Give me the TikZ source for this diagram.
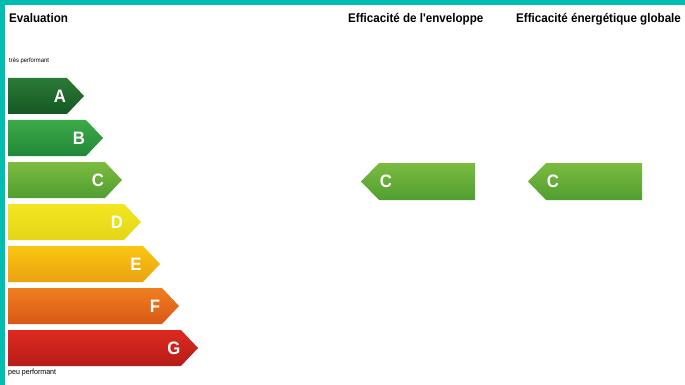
\documentclass[tikz,border=0pt]{standalone}
\usepackage{fontspec}
\setmainfont{Liberation Sans}[FakeStretch=0.93,Ligatures=TeXOff]
\definecolor{cadre}{RGB}{0,189,178}
\definecolor{classeAh}{RGB}{42,122,54}
\definecolor{classeAb}{RGB}{21,88,36}
\definecolor{classeBh}{RGB}{60,170,72}
\definecolor{classeBb}{RGB}{34,135,56}
\definecolor{classeCh}{RGB}{124,187,64}
\definecolor{classeCb}{RGB}{80,158,48}
\definecolor{classeDh}{RGB}{242,230,32}
\definecolor{classeDb}{RGB}{228,214,24}
\definecolor{classeEh}{RGB}{248,198,16}
\definecolor{classeEb}{RGB}{236,162,18}
\definecolor{classeFh}{RGB}{238,126,32}
\definecolor{classeFb}{RGB}{218,88,22}
\definecolor{classeGh}{RGB}{220,42,30}
\definecolor{classeGb}{RGB}{182,28,24}
\tikzset{
  lettre/.style={text=white,inner sep=0pt,font=\bfseries\fontsize{18}{18}\selectfont},
  titre/.style={anchor=west,inner sep=0pt,font=\bfseries\fontsize{12.5}{14}\selectfont},
  mention/.style={anchor=west,inner sep=0pt}
}
\begin{document}
\begin{tikzpicture}[x=1pt,y=-1pt]
  \useasboundingbox (0,0) rectangle (685,385);
  \fill[white] (0,0) rectangle (685,385);
  \fill[cadre] (0,0) rectangle (685,5);
  \fill[cadre] (0,0) rectangle (5,385);
  % echelle
  \node[titre] (evaluation) at (9,18) {Evaluation};
  \node[mention,font=\fontsize{6.3}{7}\selectfont] (tres) at (9,61) {très performant};
  \shade[top color=classeAh,bottom color=classeAb]
  (8,78) -- (67,78) -- (84,96) -- (67,114) -- (8,114) -- cycle;
  \node[lettre] (A) at (60,96) {A};
  \shade[top color=classeBh,bottom color=classeBb]
  (8,120) -- (86,120) -- (103,138) -- (86,156) -- (8,156) -- cycle;
  \node[lettre] (B) at (79,138) {B};
  \shade[top color=classeCh,bottom color=classeCb]
  (8,162) -- (105,162) -- (122,180) -- (105,198) -- (8,198) -- cycle;
  \node[lettre] (C) at (98,180) {C};
  \shade[top color=classeDh,bottom color=classeDb]
  (8,204) -- (124,204) -- (141,222) -- (124,240) -- (8,240) -- cycle;
  \node[lettre] (D) at (117,222) {D};
  \shade[top color=classeEh,bottom color=classeEb]
  (8,246) -- (143,246) -- (160,264) -- (143,282) -- (8,282) -- cycle;
  \node[lettre] (E) at (136,264) {E};
  \shade[top color=classeFh,bottom color=classeFb]
  (8,288) -- (162,288) -- (179,306) -- (162,324) -- (8,324) -- cycle;
  \node[lettre] (F) at (155,306) {F};
  \shade[top color=classeGh,bottom color=classeGb]
  (8,330) -- (181,330) -- (198,348) -- (181,366) -- (8,366) -- cycle;
  \node[lettre] (G) at (174,348) {G};
  \node[mention,font=\fontsize{7.6}{9}\selectfont] (peu) at (8,373) {peu performant};
  % resultats
  \node[titre] (enveloppe) at (348,19) {Efficacité de l'enveloppe};
  \node[titre] (globale) at (516,19) {Efficacité énergétique globale};
  \shade[top color=classeCh,bottom color=classeCb]
  (475,163) -- (379,163) -- (361,181.5) -- (379,200) -- (475,200) -- cycle;
  \node[lettre] (Cenv) at (386,181.5) {C};
  \shade[top color=classeCh,bottom color=classeCb]
  (642,163) -- (546,163) -- (528,181.5) -- (546,200) -- (642,200) -- cycle;
  \node[lettre] (Cglob) at (553,181.5) {C};
\end{tikzpicture}
\end{document}
